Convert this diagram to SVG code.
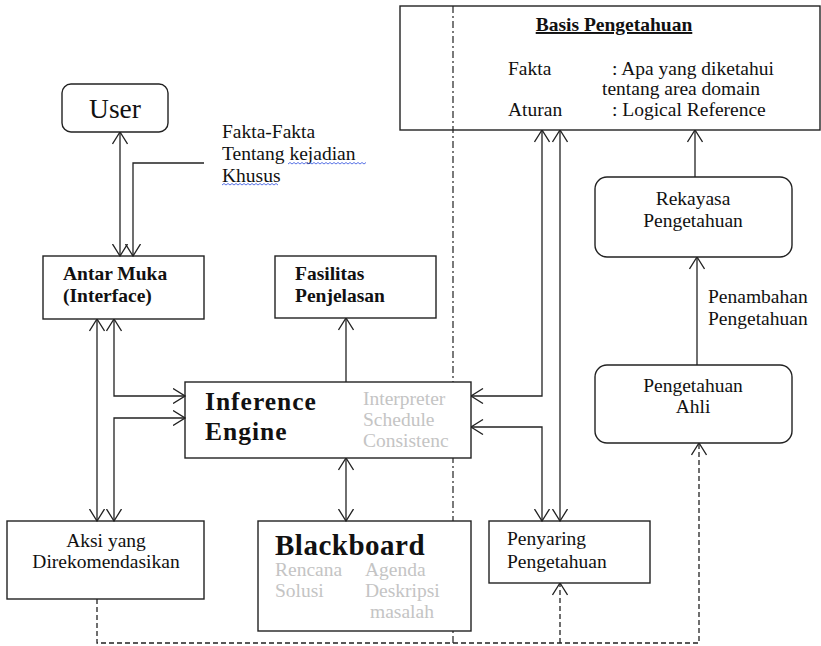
<svg xmlns="http://www.w3.org/2000/svg" width="821" height="646" viewBox="0 0 821 646">
<style>
  .box { fill: #fff; stroke: #222; stroke-width: 1.4; }
  .t { font-family: "Liberation Serif", "Times New Roman", serif; font-size: 19.5px; fill: #111; }
  .b { font-weight: bold; }
  .g { fill: #c4c4c4; }
  .c { text-anchor: middle; }
  .ln { fill: none; stroke: #222; stroke-width: 1.3; }
  .dash { fill: none; stroke: #222; stroke-width: 1.3; stroke-dasharray: 5 3; }
  .dd { fill: none; stroke: #222; stroke-width: 1.2; stroke-dasharray: 7 3 2 3; }
  .sq { fill: none; stroke: #3050e0; stroke-width: 0.8; }
</style>
<defs>
  <marker id="ah" viewBox="0 0 13 16" refX="12.5" refY="8" markerWidth="13" markerHeight="16" markerUnits="userSpaceOnUse" orient="auto-start-reverse">
    <path d="M0.5,0.5 L12.5,8 L0.5,15.5" fill="none" stroke="#222" stroke-width="1.3"/>
  </marker>
</defs>

<line class="dd" x1="453" y1="6" x2="453" y2="643"/>

<g id="basis">
  <rect class="box" x="400" y="6" width="420" height="124" style="fill:none"/>
  <text class="t b c" x="614" y="31" text-decoration="underline">Basis Pengetahuan</text>
  <text class="t" x="508" y="75">Fakta</text>
  <text class="t" x="612" y="75">: Apa yang diketahui</text>
  <text class="t" x="602" y="95">tentang area domain</text>
  <text class="t" x="508" y="116">Aturan</text>
  <text class="t" x="612" y="116">: Logical Reference</text>
</g>

<g id="user">
  <rect class="box" x="62" y="84" width="106" height="48" rx="9"/>
  <text class="t c" x="115" y="118" style="font-size:27.5px">User</text>
</g>

<g id="fakta-label">
  <text class="t" x="222" y="138">Fakta-Fakta</text>
  <text class="t" x="222" y="160">Tentang kejadian</text>
  <text class="t" x="222" y="182">Khusus</text>
  <path class="sq" d="M288,164 l2,-1.5 l2,1.5 l2,-1.5 l2,1.5 l2,-1.5 l2,1.5 l2,-1.5 l2,1.5 l2,-1.5 l2,1.5 l2,-1.5 l2,1.5 l2,-1.5 l2,1.5 l2,-1.5 l2,1.5 l2,-1.5 l2,1.5 l2,-1.5 l2,1.5 l2,-1.5 l2,1.5 l2,-1.5 l2,1.5 l2,-1.5 l2,1.5 l2,-1.5 l2,1.5 l2,-1.5 l2,1.5 l2,-1.5 l2,1.5 l2,-1.5 l2,1.5 l2,-1.5 l2,1.5 l2,-1.5 l2,1.5 l2,-1.5"/>
  <path class="sq" d="M222,185 l2,-1.5 l2,1.5 l2,-1.5 l2,1.5 l2,-1.5 l2,1.5 l2,-1.5 l2,1.5 l2,-1.5 l2,1.5 l2,-1.5 l2,1.5 l2,-1.5 l2,1.5 l2,-1.5 l2,1.5 l2,-1.5 l2,1.5 l2,-1.5 l2,1.5 l2,-1.5 l2,1.5 l2,-1.5 l2,1.5 l2,-1.5 l2,1.5 l2,-1.5 l2,1.5"/>
</g>

<g id="antarmuka">
  <rect class="box" x="43" y="256" width="161" height="63"/>
  <text class="t b" x="63" y="280">Antar Muka</text>
  <text class="t b" x="63" y="302">(Interface)</text>
</g>

<g id="fasilitas">
  <rect class="box" x="275" y="256" width="161" height="62"/>
  <text class="t b" x="295" y="280">Fasilitas</text>
  <text class="t b" x="295" y="302">Penjelasan</text>
</g>

<g id="inference">
  <rect class="box" x="185" y="382" width="286" height="76"/>
  <text class="t b" x="205" y="410" style="font-size:25.5px;letter-spacing:1px">Inference</text>
  <text class="t b" x="205" y="440" style="font-size:25.5px;letter-spacing:1px">Engine</text>
  <text class="t g" x="363" y="405">Interpreter</text>
  <text class="t g" x="363" y="426">Schedule</text>
  <text class="t g" x="363" y="447">Consistenc</text>
</g>

<g id="aksi">
  <rect class="box" x="7" y="521" width="197" height="78"/>
  <text class="t c" x="106" y="547">Aksi yang</text>
  <text class="t c" x="106" y="568">Direkomendasikan</text>
</g>

<g id="blackboard">
  <rect class="box" x="258" y="521" width="213" height="110"/>
  <text class="t b" x="275" y="555" style="font-size:29px;letter-spacing:0.5px">Blackboard</text>
  <text class="t g" x="275" y="576">Rencana</text>
  <text class="t g" x="365" y="576">Agenda</text>
  <text class="t g" x="275" y="597">Solusi</text>
  <text class="t g" x="365" y="597">Deskripsi</text>
  <text class="t g" x="370" y="618">masalah</text>
</g>

<g id="penyaring">
  <rect class="box" x="489" y="521" width="161" height="62"/>
  <text class="t" x="507" y="545">Penyaring</text>
  <text class="t" x="507" y="568">Pengetahuan</text>
</g>

<g id="rekayasa">
  <rect class="box" x="595" y="177" width="197" height="80" rx="12"/>
  <text class="t c" x="693" y="205">Rekayasa</text>
  <text class="t c" x="693" y="227">Pengetahuan</text>
</g>

<g id="penambahan-label">
  <text class="t" x="708" y="303">Penambahan</text>
  <text class="t" x="708" y="325">Pengetahuan</text>
</g>

<g id="ahli">
  <rect class="box" x="595" y="365" width="197" height="78" rx="12"/>
  <text class="t c" x="693" y="392">Pengetahuan</text>
  <text class="t c" x="693" y="413">Ahli</text>
</g>

<g id="connectors">
  <path class="ln" d="M120,132 V256" marker-start="url(#ah)" marker-end="url(#ah)"/>
  <path class="ln" d="M204,163 H133 V256" marker-end="url(#ah)"/>
  <path class="ln" d="M97,319 V521" marker-start="url(#ah)" marker-end="url(#ah)"/>
  <path class="ln" d="M114,319 V396 H185" marker-start="url(#ah)" marker-end="url(#ah)"/>
  <path class="ln" d="M185,418 H114 V521" marker-start="url(#ah)" marker-end="url(#ah)"/>
  <path class="ln" d="M346,382 V318" marker-end="url(#ah)"/>
  <path class="ln" d="M346,458 V521" marker-start="url(#ah)" marker-end="url(#ah)"/>
  <path class="ln" d="M542,130 V396 H471" marker-start="url(#ah)" marker-end="url(#ah)"/>
  <path class="ln" d="M471,427 H542 V521" marker-start="url(#ah)" marker-end="url(#ah)"/>
  <path class="ln" d="M560,130 V521" marker-start="url(#ah)" marker-end="url(#ah)"/>
  <path class="ln" d="M695,177 V130" marker-end="url(#ah)"/>
  <path class="ln" d="M697,365 V257" marker-end="url(#ah)"/>
  <path class="dash" d="M97,599 V643 H699 V443" marker-end="url(#ah)"/>
  <path class="dash" d="M560,643 V583" marker-end="url(#ah)"/>
</g>
</svg>
